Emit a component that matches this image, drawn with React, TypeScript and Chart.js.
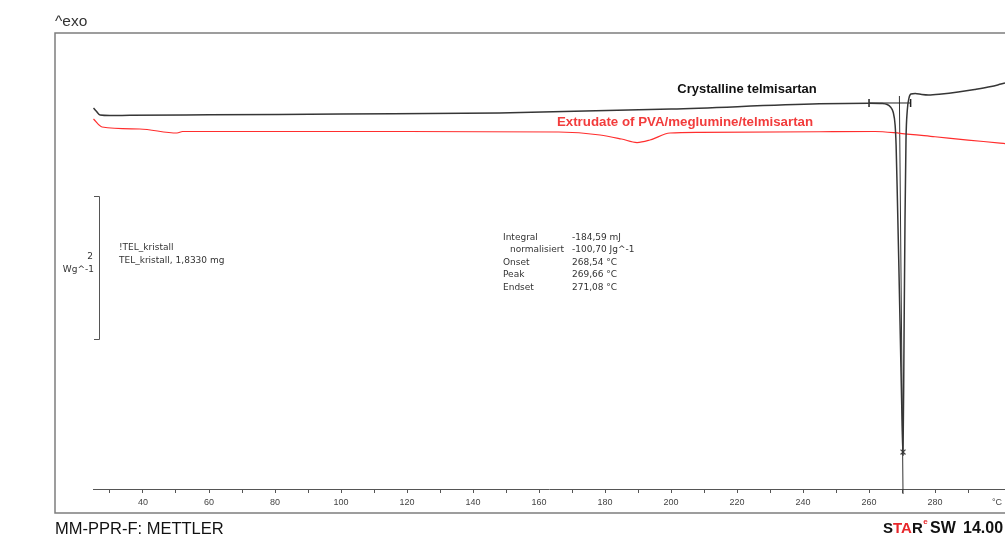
import { useEffect, useRef } from "react";
import { Chart, registerables } from "chart.js";

Chart.register(...registerables);

// ---- Data (temperature in °C, heat flow in W/g, arbitrary offset) ----
const TEMP_CRYSTALLINE = [
  25.0, 25.8, 27.0, 30, 36, 60, 100, 148, 200, 245, 260, 264, 265.5, 266.5, 267.3, 267.9,
  268.2, 268.6, 269.0, 269.5, 270.0, 270.3, 270.6, 270.9, 271.2, 271.6, 272.1, 272.7,
  274, 276, 278, 282, 287, 292, 297, 300, 301.2,
];
const HEATFLOW_CRYSTALLINE = [
  5.329, 5.287, 5.231, 5.224, 5.227, 5.234, 5.245, 5.259, 5.315, 5.387, 5.396, 5.392, 5.378,
  5.343, 5.273, 5.091, 4.811, 4.042, 3.203, 2.084, 0.965, 0.476, 2.084, 3.762, 4.881, 5.301,
  5.467, 5.524, 5.531, 5.517, 5.51, 5.524, 5.552, 5.587, 5.629, 5.664, 5.678,
];

const TEMP_EXTRUDATE = [
  25.0, 27.6, 39, 50.3, 52, 80, 120, 166, 178.5, 185, 189.7, 193.6, 199.7, 208.8, 245,
  261.8, 269.4, 280, 290, 299.7, 301.2,
];
const HEATFLOW_EXTRUDATE = [
  5.175, 5.063, 5.035, 4.979, 5.0, 5.0, 5.0, 4.993, 4.951, 4.895, 4.846, 4.881, 4.979,
  4.989, 4.997, 5.0, 4.975, 4.927, 4.881, 4.839, 4.832,
];

// integration limits (baseline) and peak marker
const INTEGRATION_TEMPS = [260, 272.6];
const INTEGRATION_LEVEL = [5.399, 5.399];
const PEAK_LINE_TEMPS = [269.2, 270.3];
const PEAK_LINE_LEVELS = [5.497, -0.07];
const PEAK_MARK_TEMP = [270.3];
const PEAK_MARK_LEVEL = [0.517];

const X_LABELED_TICKS = [40, 60, 80, 100, 120, 140, 160, 180, 200, 220, 240, 260, 280];
const X_MIN = 24.85;
const X_MAX = 301.2;
const Y_MIN = 0;
const Y_MAX = 6.378;
const SCALE_BAR_TOP = 4.098; // W/g
const SCALE_BAR_SPAN = 2; // W/g

const LEGEND_LINES = ["!TEL_kristall", "TEL_kristall, 1,8330 mg"];
const RESULT_LABELS = ["Integral", "  normalisiert", "Onset", "Peak", "Endset"];
const RESULT_VALUES = ["-184,59 mJ", "-100,70 Jg^-1", "268,54 °C", "269,66 °C", "271,08 °C"];

const zip = (xs: number[], ys: number[]) => xs.map((x, i) => ({ x, y: ys[i] }));

const decorPlugin = {
  id: "decor",
  afterDraw(chart: any) {
    const ctx = chart.ctx as CanvasRenderingContext2D;
    const ys = chart.scales.y;
    ctx.save();

    // frame
    ctx.strokeStyle = "#7d7d7d";
    ctx.lineWidth = 1.5;
    ctx.beginPath();
    ctx.moveTo(1006, 33);
    ctx.lineTo(55, 33);
    ctx.lineTo(55, 513);
    ctx.lineTo(1006, 513);
    ctx.stroke();

    // ^exo
    ctx.fillStyle = "#333";
    ctx.font = "15.5px 'Liberation Sans', Arial, sans-serif";
    ctx.textBaseline = "alphabetic";
    ctx.textAlign = "left";
    ctx.fillText("^exo", 55, 26);

    // °C unit
    ctx.font = "9px 'Liberation Sans', Arial, sans-serif";
    ctx.fillStyle = "#444";
    ctx.textAlign = "center";
    ctx.textBaseline = "middle";
    ctx.fillText("°C", 997, 503);

    // scale bar
    const yTop = ys.getPixelForValue(SCALE_BAR_TOP);
    const yBot = ys.getPixelForValue(SCALE_BAR_TOP - SCALE_BAR_SPAN);
    ctx.strokeStyle = "#555";
    ctx.lineWidth = 1;
    ctx.beginPath();
    ctx.moveTo(94, yTop + 0.5);
    ctx.lineTo(99.5, yTop + 0.5);
    ctx.lineTo(99.5, yBot + 0.5);
    ctx.lineTo(94, yBot + 0.5);
    ctx.stroke();
    ctx.font = "9px 'DejaVu Sans', sans-serif";
    ctx.fillStyle = "#333";
    ctx.textAlign = "right";
    ctx.textBaseline = "middle";
    ctx.fillText(String(SCALE_BAR_SPAN), 93, 257);
    ctx.fillText("Wg^-1", 94, 270);

    // legend text
    ctx.textAlign = "left";
    ctx.fillText(LEGEND_LINES[0], 119, 248);
    ctx.fillText(LEGEND_LINES[1], 119, 261);

    // results block
    RESULT_LABELS.forEach((lab, i) => {
      const y = 237.5 + i * 12.5;
      ctx.fillText(lab.trim(), lab.startsWith(" ") ? 510 : 503, y);
      ctx.fillText(RESULT_VALUES[i], 572, y);
    });

    // curve titles
    ctx.textAlign = "center";
    ctx.font = "bold 13px 'Liberation Sans', Arial, sans-serif";
    ctx.fillStyle = "#111";
    ctx.fillText("Crystalline telmisartan", 747, 89);
    ctx.font = "bold 13.3px 'Liberation Sans', Arial, sans-serif";
    ctx.fillStyle = "#f23c3c";
    ctx.fillText("Extrudate of PVA/meglumine/telmisartan", 685, 122);

    // footer
    ctx.textAlign = "left";
    ctx.fillStyle = "#111";
    ctx.font = "16.5px 'Liberation Sans', Arial, sans-serif";
    ctx.fillText("MM-PPR-F: METTLER", 55, 529);

    ctx.font = "bold 15px 'Liberation Sans', Arial, sans-serif";
    let x = 883;
    const part = (t: string, c: string) => {
      ctx.fillStyle = c;
      ctx.fillText(t, x, 529);
      x += ctx.measureText(t).width;
    };
    part("S", "#111");
    part("TA", "#e8262a");
    part("R", "#111");
    ctx.font = "bold 8px 'Liberation Sans', Arial, sans-serif";
    ctx.fillStyle = "#e8262a";
    ctx.fillText("e", x + 0.5, 522);
    ctx.font = "bold 16px 'Liberation Sans', Arial, sans-serif";
    ctx.fillStyle = "#111";
    ctx.fillText("SW", 930, 529);
    ctx.fillText("14.00", 963, 529);

    ctx.restore();
  },
};

export default function App() {
  const ref = useRef<HTMLCanvasElement | null>(null);

  useEffect(() => {
    if (!ref.current) return;
    const chart = new Chart(ref.current, {
      type: "line",
      data: {
        datasets: [
          {
            label: "Crystalline telmisartan",
            data: zip(TEMP_CRYSTALLINE, HEATFLOW_CRYSTALLINE),
            borderColor: "#363636",
            borderWidth: 1.5,
            pointRadius: 0,
            cubicInterpolationMode: "monotone",
          },
          {
            label: "Extrudate of PVA/meglumine/telmisartan",
            data: zip(TEMP_EXTRUDATE, HEATFLOW_EXTRUDATE),
            borderColor: "#ff2e2e",
            borderWidth: 1.2,
            pointRadius: 0,
            cubicInterpolationMode: "monotone",
          },
          {
            label: "baseline",
            data: zip(INTEGRATION_TEMPS, INTEGRATION_LEVEL),
            borderColor: "#222",
            borderWidth: 1,
            pointStyle: "line",
            rotation: 90,
            pointRadius: 4,
            pointBorderColor: "#222",
            pointBorderWidth: 1.5,
          },
          {
            label: "peak line",
            data: zip(PEAK_LINE_TEMPS, PEAK_LINE_LEVELS),
            borderColor: "#333",
            borderWidth: 1,
            pointRadius: 0,
            clip: false as any,
          },
          {
            label: "peak mark",
            data: zip(PEAK_MARK_TEMP, PEAK_MARK_LEVEL),
            showLine: false,
            pointStyle: "crossRot",
            pointRadius: 3.5,
            pointBorderColor: "#444",
            pointBorderWidth: 1.2,
          },
        ],
      },
      options: {
        animation: false,
        responsive: false,
        devicePixelRatio: 1,
        parsing: false as any,
        layout: { autoPadding: false, padding: { left: 93, top: 33, right: 0, bottom: 0 } },
        plugins: { legend: { display: false }, tooltip: { enabled: false } },
        scales: {
          x: {
            type: "linear",
            min: X_MIN,
            max: X_MAX,
            afterFit: (s: any) => {
              s.height = 47;
              s.paddingLeft = 0;
              s.paddingRight = 0;
            },
            border: { display: true, color: "#555", width: 1 },
            grid: {
              drawOnChartArea: false,
              drawTicks: true,
              tickLength: 4,
              color: (c: any) => (c.tick && c.tick.value >= 300 ? "rgba(0,0,0,0)" : "#555"),
            },
            ticks: {
              stepSize: 10,
              includeBounds: false,
              autoSkip: false,
              maxRotation: 0,
              padding: 4,
              color: "#444",
              font: { size: 9, family: "'Liberation Sans', Arial, sans-serif" },
              callback: (v: any) => (X_LABELED_TICKS.includes(Number(v)) ? String(v) : ""),
            },
          },
          y: { display: false, min: Y_MIN, max: Y_MAX },
        },
      },
      plugins: [decorPlugin],
    });
    return () => chart.destroy();
  }, []);

  return (
    <div style={{ position: "absolute", left: 0, top: 0, width: 1005, height: 536, background: "#fff" }}>
      <canvas ref={ref} width={1005} height={536} style={{ display: "block" }} />
    </div>
  );
}
